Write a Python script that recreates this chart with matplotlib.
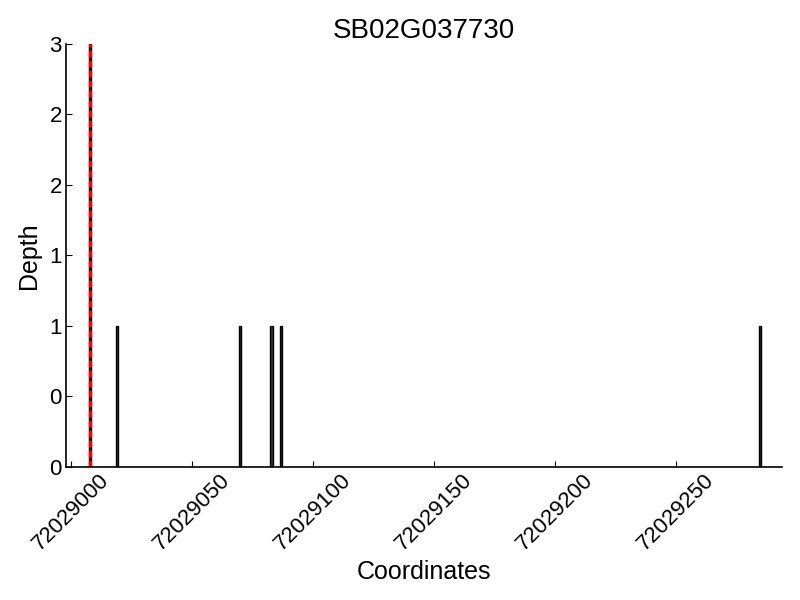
import matplotlib
matplotlib.use("Agg")
import matplotlib.pyplot as plt
from matplotlib.ticker import FuncFormatter

plt.rcParams['font.family'] = ['Liberation Sans', 'DejaVu Sans']

title = "SB02G037730"
positions = [72029008, 72029019, 72029070, 72029083, 72029087, 72029285]
depths = [3, 1, 1, 1, 1, 1]
marker_pos = 72029008
xticks = [72029000, 72029050, 72029100, 72029150, 72029200, 72029250]
yticks = [0, 0.5, 1, 1.5, 2, 2.5, 3]

fig = plt.figure(figsize=(8, 6), dpi=100)
ax = fig.add_axes([0.0825, 0.2217, 0.895, 0.705])

ax.bar(positions, depths, width=1.0, color='#333333', edgecolor='black', linewidth=1)
ax.axvline(marker_pos, color='red', linestyle=(0, (2.0, 1.0)), linewidth=2.4)

ax.set_xlim(72028998, 72029294)
ax.set_ylim(0, 3)
ax.set_xticks(xticks)
ax.set_xticklabels([str(v) for v in xticks], rotation=45, ha='center', fontsize=16)
ax.set_yticks(yticks)
ax.yaxis.set_major_formatter(FuncFormatter(lambda v, p: "%d" % v))
ax.tick_params(axis='y', labelsize=16, direction='in', length=4, pad=3)
ax.tick_params(axis='x', direction='in', length=4, pad=2)

for s in ['top', 'right']:
    ax.spines[s].set_visible(False)
for s in ['left', 'bottom']:
    ax.spines[s].set_linewidth(1.2)

ax.set_xlabel("Coordinates", fontsize=18, labelpad=4)
ax.set_ylabel("Depth", fontsize=18, labelpad=6)
ax.set_title(title, fontsize=20, pad=4)

fig.savefig("out.png", dpi=100)
